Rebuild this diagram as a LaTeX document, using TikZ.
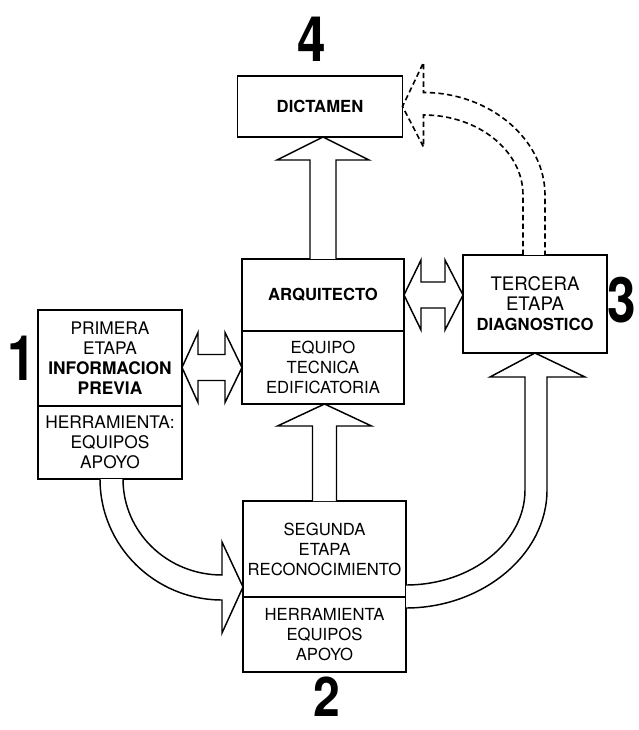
\documentclass[tikz,border=0pt]{standalone}
\usepackage{fontspec}
\setsansfont{TeX Gyre Heros}
\usetikzlibrary{positioning,calc}

\tikzset{
  box/.style={draw, line width=1.2pt, outer sep=0pt, inner sep=1pt, align=center,
    font=\sffamily\fontsize{12.5}{15}\selectfont},
  bignum/.style={font=\sffamily\bfseries\fontsize{47}{47}\selectfont, inner sep=0pt},
  blockarrow/.style={draw, fill=white, line width=1.1pt, line join=miter},
  dasharrow/.style={blockarrow, line width=1.2pt, dash pattern=on 4pt off 2.5pt}
}

\begin{document}
\begin{tikzpicture}[x=0.75pt,y=-0.75pt]
\useasboundingbox (0,0) rectangle (638,730);

% boxes
\node [box, minimum width=123.75pt, minimum height=45.75pt] (dict) at (320,106.5) {\textbf{DICTAMEN}};
\node [box, minimum width=121.5pt, minimum height=54pt] (arq) at (323,295) {\textbf{ARQUITECTO}};
\node [box, minimum width=121.5pt, minimum height=54.75pt, below=0pt of arq] (equipo) {EQUIPO\\TECNICA\\EDIFICATORIA};
\node [box, minimum width=108pt, minimum height=72pt, font=\sffamily\fontsize{13}{15}\selectfont] (prim) at (110,358) {PRIMERA\\ETAPA\\\textbf{INFORMACION}\\\textbf{PREVIA}};
\node [box, minimum width=108pt, minimum height=54.75pt, font=\sffamily\fontsize{13}{15}\selectfont, below=0pt of prim] (herr1) {HERRAMIENTA:\\EQUIPOS\\APOYO};
\node [box, minimum width=108pt, minimum height=73.5pt] (terc) at (535,304) {{\fontsize{14}{16}\selectfont TERCERA}\\{\fontsize{14}{16}\selectfont ETAPA}\\\textbf{DIAGNOSTICO}};
\node [box, minimum width=122.25pt, minimum height=72pt] (seg) at (324.5,549) {SEGUNDA\\ETAPA\\RECONOCIMIENTO};
\node [box, minimum width=122.25pt, minimum height=56.25pt, below=0pt of seg] (herr2) {HERRAMIENTA\\EQUIPOS\\APOYO};

% numbers
\node [bignum] (n4) at (312,39) {\scalebox{0.82}[1]{4}};
\node [bignum] (n1) at (22,358) {\scalebox{0.82}[1]{1}};
\node [bignum] (n3) at (622,300) {\scalebox{0.82}[1]{3}};
\node [bignum, font=\sffamily\bfseries\fontsize{41}{41}\selectfont] (n2) at (327,697) {\scalebox{0.88}[1]{2}};

% up arrows
\draw [blockarrow] ($(arq.north)+(-13,0)$) -- ($(dict.south -| arq.north)+(-13,23)$) -- ++(-33,0)
  -- (dict.south -| arq.north) -- ++(46,23) -- ++(-33,0) -- ($(arq.north)+(13,0)$);
\draw [blockarrow] ($(seg.north)+(-12,0)$) -- ($(equipo.south -| seg.north)+(-12,22)$) -- ++(-35,0)
  -- (equipo.south -| seg.north) -- ++(47,22) -- ++(-35,0) -- ($(seg.north)+(12,0)$);

% double arrows
\draw [blockarrow] (prim.east |- equipo.west) -- ++(16,-35) -- ++(0,22) -- ($(equipo.west)+(-17,-13)$)
  -- ++(0,-22) -- (equipo.west) -- ++(-17,35) -- ++(0,-22) -- ($(prim.east |- equipo.west)+(16,13)$)
  -- ++(0,22) -- cycle;
\draw [blockarrow] (arq.east) -- ++(17,-35) -- ++(0,22) -- ($(terc.west |- arq.east)+(-18,-13)$)
  -- ++(0,-22) -- (terc.west |- arq.east) -- ++(-18,35) -- ++(0,-22) -- ($(arq.east)+(17,13)$)
  -- ++(0,22) -- cycle;

% curved arrows
\draw [blockarrow] ($(herr1.south)+(-10,0)$) .. controls +(0,67) and +(-67,0) .. ($(seg.west)+(-21,51)$)
  -- ++(0,33) -- ($(seg.west)+(0,38)$) -- ++(-21,-45) -- ++(0,33)
  .. controls +(-55,0) and +(0,53) .. ($(herr1.south)+(13,0)$);
\draw [blockarrow] ($(seg.east)+(0,36)$) .. controls +(66,0) and +(0,52) .. ($(terc.south)+(-10,137)$)
  -- ($(terc.south)+(-10,24)$) -- ++(-35,0) -- (terc.south) -- ++(50,24) -- ++(-38,0) -- ++(0,113)
  .. controls +(0,65) and +(76,0) .. ($(seg.east)+(0,59)$);

% dashed arrow
\draw [dasharrow] ($(terc.north)+(-12,0)$) -- ++(0,-60) .. controls +(0,-44) and +(55,0) .. ($(dict.east)+(21,8.5)$)
  -- ++(0,32) -- (dict.east) -- ++(21,-44) -- ++(0,30)
  .. controls +(67,0) and +(0,-55) .. ($(terc.north)+(10,-60)$) -- ++(0,60);

\end{tikzpicture}
\end{document}
